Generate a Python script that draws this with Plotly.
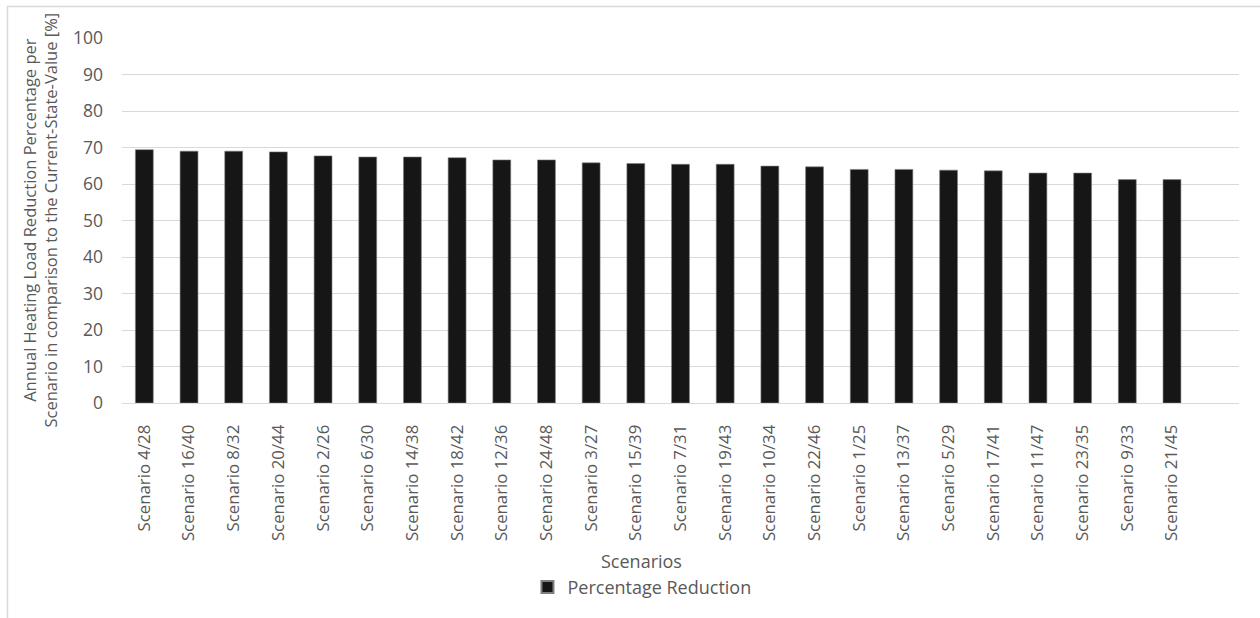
import plotly.graph_objects as go

scenarios = [
    "Scenario 4/28", "Scenario 16/40", "Scenario 8/32", "Scenario 20/44",
    "Scenario 2/26", "Scenario 6/30", "Scenario 14/38", "Scenario 18/42",
    "Scenario 12/36", "Scenario 24/48", "Scenario 3/27", "Scenario 15/39",
    "Scenario 7/31", "Scenario 19/43", "Scenario 10/34", "Scenario 22/46",
    "Scenario 1/25", "Scenario 13/37", "Scenario 5/29", "Scenario 17/41",
    "Scenario 11/47", "Scenario 23/35", "Scenario 9/33", "Scenario 21/45",
]
reduction = [
    69.4, 69.0, 69.0, 68.8, 67.7, 67.4, 67.4, 67.2,
    66.6, 66.6, 65.8, 65.6, 65.4, 65.4, 64.9, 64.7,
    64.0, 64.0, 63.8, 63.6, 63.0, 63.0, 61.2, 61.2,
]
y_ticks = list(range(0, 101, 10))

text_color = "#595959"
grid_color = "#d9d9d9"
font_family = "Open Sans, Liberation Sans, sans-serif"

fig = go.Figure()
fig.add_trace(go.Bar(
    x=scenarios,
    y=reduction,
    name="Percentage Reduction",
    marker=dict(color="#161616", line=dict(color="#7f7f7f", width=0.6)),
    showlegend=True,
))

fig.update_layout(
    width=1260,
    height=618,
    paper_bgcolor="white",
    plot_bgcolor="white",
    margin=dict(l=122, r=21, t=38, b=210),
    bargap=0.6,
    font=dict(family=font_family, color=text_color, size=17),
    xaxis=dict(
        type="category",
        range=[-0.5, 24.5],
        automargin=False,
        tickangle=-90,
        tickfont=dict(size=16.8, color=text_color),
        showgrid=False,
        showline=True,
        linecolor=grid_color,
        linewidth=1,
        ticks="",
        ticklabelstandoff=14,
    ),
    yaxis=dict(
        range=[0, 100],
        automargin=False,
        tickvals=y_ticks,
        tickfont=dict(size=17.5, color=text_color),
        showgrid=True,
        gridcolor=grid_color,
        gridwidth=1,
        zeroline=False,
        ticks="",
        ticklabelstandoff=18,
    ),
    legend=dict(
        orientation="h",
        x=0.4655,
        xanchor="center",
        y=-0.505,
        yanchor="middle",
        font=dict(size=18, color=text_color),
        itemsizing="constant",
        itemwidth=30,
    ),
)

# Axis titles
fig.add_annotation(
    text="Scenarios", xref="paper", yref="paper",
    x=0.4655, y=-0.433, xanchor="center", yanchor="middle",
    showarrow=False, font=dict(size=18, color=text_color),
)
fig.add_annotation(
    text="Annual Heating Load Reduction Percentage per<br>"
         "Scenario in comparison to the Current-State-Value [%]",
    xref="paper", yref="paper",
    x=-0.0743, y=0.5, xanchor="center", yanchor="middle",
    textangle=-90, showarrow=False,
    font=dict(size=16.5, color=text_color),
)

# Light frame around the chart area
fig.add_shape(
    type="rect", xref="paper", yref="paper",
    x0=-0.1025, x1=1.03, y0=-0.62, y1=1.086,
    line=dict(color="#d9d9d9", width=1.5), fillcolor="rgba(0,0,0,0)",
    layer="below",
)

fig.write_html("out.html")
